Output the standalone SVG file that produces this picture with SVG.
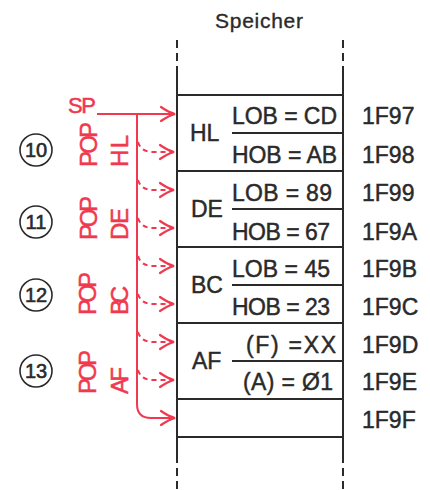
<svg xmlns="http://www.w3.org/2000/svg" width="430" height="490" viewBox="0 0 430 490">
  <style>
    .ink { fill: #2a2a2a; stroke: #2a2a2a; stroke-width: 0.45; font-family: "Liberation Sans", Arial, sans-serif; }
    .cell { font-size: 23px; }
    .addr { font-size: 23px; }
    .title { font-size: 21px; stroke-width: 0.35; }
    .red { fill: #f0384f; stroke: #f0384f; stroke-width: 0.5; font-family: "Liberation Sans", Arial, sans-serif; }
    .pop { font-size: 24px; }
    .frame { stroke: #2a2a2a; stroke-width: 2; fill: none; }
    .frame-dash { stroke: #2a2a2a; stroke-width: 2; fill: none; stroke-dasharray: 8 5; }
    .rule { stroke: #2a2a2a; stroke-width: 2; }
    .wire { stroke: #f0384f; stroke-width: 2; fill: none; }
    .wire-dash { stroke: #f0384f; stroke-width: 2; fill: none; stroke-dasharray: 5 4; }
    .ring { fill: none; stroke: #2a2a2a; stroke-width: 1.6; }
    .num { font-size: 20px; stroke-width: 0.6; }
  </style>
  <defs>
    <marker id="head" markerUnits="userSpaceOnUse" markerWidth="20" markerHeight="20" refX="16" refY="10" orient="auto">
      <path d="M2,3 Q10,8.5 16,10 Q10,11.5 2,17" fill="none" stroke="#f0384f" stroke-width="2.2" stroke-linecap="round"/>
    </marker>
  </defs>

  <rect width="430" height="490" fill="#ffffff"/>

  <!-- memory column -->
  <g id="memory">
    <text class="ink title" x="215" y="28" textLength="88">Speicher</text>
    <line class="frame-dash" x1="177" y1="40" x2="177" y2="66"/>
    <line class="frame-dash" x1="343" y1="40" x2="343" y2="66"/>
    <line class="frame" x1="177" y1="66" x2="177" y2="463"/>
    <line class="frame" x1="343" y1="66" x2="343" y2="463"/>
    <line class="frame-dash" x1="177" y1="468" x2="177" y2="490"/>
    <line class="frame-dash" x1="343" y1="468" x2="343" y2="490"/>
    <!-- full row borders -->
    <line class="rule" x1="177" y1="95" x2="343" y2="95"/>
    <line class="rule" x1="177" y1="171" x2="343" y2="171"/>
    <line class="rule" x1="177" y1="247" x2="343" y2="247"/>
    <line class="rule" x1="177" y1="323" x2="343" y2="323"/>
    <line class="rule" x1="177" y1="399" x2="343" y2="399"/>
    <line class="rule" x1="177" y1="437" x2="343" y2="437"/>
    <!-- byte separators -->
    <line class="rule" x1="232" y1="133" x2="343" y2="133"/>
    <line class="rule" x1="232" y1="209" x2="343" y2="209"/>
    <line class="rule" x1="232" y1="285" x2="343" y2="285"/>
    <line class="rule" x1="232" y1="361" x2="343" y2="361"/>
  </g>

  <g id="reg-hl">
    <text class="ink cell" x="190" y="141">HL</text>
    <text class="ink cell" x="232" y="124" textLength="105">LOB = CD</text>
    <text class="ink cell" x="232" y="163" textLength="105">HOB = AB</text>
  </g>
  <g id="reg-de">
    <text class="ink cell" x="191" y="217">DE</text>
    <text class="ink cell" x="232" y="201" textLength="100">LOB = 89</text>
    <text class="ink cell" x="232" y="240" textLength="98">HOB = 67</text>
  </g>
  <g id="reg-bc">
    <text class="ink cell" x="191" y="293">BC</text>
    <text class="ink cell" x="232" y="277" textLength="98">LOB = 45</text>
    <text class="ink cell" x="232" y="315" textLength="98">HOB = 23</text>
  </g>
  <g id="reg-af">
    <text class="ink cell" x="192" y="369">AF</text>
    <text class="ink cell" x="246" y="353" textLength="90">(F) =XX</text>
    <text class="ink cell" x="243" y="390" textLength="90">(A) = Ø1</text>
  </g>

  <!-- addresses -->
  <g id="addresses">
    <text class="ink addr" x="362" y="124">1F97</text>
    <text class="ink addr" x="362" y="163">1F98</text>
    <text class="ink addr" x="362" y="201">1F99</text>
    <text class="ink addr" x="362" y="240">1F9A</text>
    <text class="ink addr" x="362" y="277">1F9B</text>
    <text class="ink addr" x="362" y="315">1F9C</text>
    <text class="ink addr" x="362" y="353">1F9D</text>
    <text class="ink addr" x="362" y="390">1F9E</text>
    <text class="ink addr" x="362" y="428">1F9F</text>
  </g>

  <!-- step markers and instructions -->
  <g id="step-10">
    <circle class="ring" cx="36" cy="150" r="16"/>
    <text class="ink num" x="36" y="157" text-anchor="middle">10</text>
    <text class="red pop" transform="translate(97,167) rotate(-90)" textLength="45">POP</text>
    <text class="red pop" transform="translate(128,167) rotate(-90)" textLength="32">HL</text>
  </g>
  <g id="step-11">
    <circle class="ring" cx="36" cy="222" r="16"/>
    <text class="ink num" x="36" y="229" text-anchor="middle">11</text>
    <text class="red pop" transform="translate(97,240) rotate(-90)" textLength="44">POP</text>
    <text class="red pop" transform="translate(128,240) rotate(-90)" textLength="32">DE</text>
  </g>
  <g id="step-12">
    <circle class="ring" cx="36" cy="295" r="16"/>
    <text class="ink num" x="36" y="302" text-anchor="middle">12</text>
    <text class="red pop" transform="translate(96,315) rotate(-90)" textLength="43">POP</text>
    <text class="red pop" transform="translate(128,315) rotate(-90)" textLength="29">BC</text>
  </g>
  <g id="step-13">
    <circle class="ring" cx="36" cy="371" r="16"/>
    <text class="ink num" x="36" y="378" text-anchor="middle">13</text>
    <text class="red pop" transform="translate(96,394) rotate(-90)" textLength="44">POP</text>
    <text class="red pop" transform="translate(128,394) rotate(-90)" textLength="27">AF</text>
  </g>

  <g id="sp">
    <text class="red" x="68" y="113" font-size="22" textLength="28">SP</text>
  </g>

  <!-- stack pointer movement -->
  <g id="connectors">
    <path class="wire" d="M97,114 L175,114" marker-end="url(#head)"/>
    <path class="wire" d="M137,114 L137,404 Q137,418 151,418 L175,418" marker-end="url(#head)"/>
    <path class="wire-dash" d="M138,142 Q141,152 153,152 L174,152" marker-end="url(#head)"/>
    <path class="wire-dash" d="M138,180 Q141,190 153,190 L174,190" marker-end="url(#head)"/>
    <path class="wire-dash" d="M138,218 Q141,228 153,228 L174,228" marker-end="url(#head)"/>
    <path class="wire-dash" d="M138,256 Q141,266 153,266 L174,266" marker-end="url(#head)"/>
    <path class="wire-dash" d="M138,294 Q141,304 153,304 L174,304" marker-end="url(#head)"/>
    <path class="wire-dash" d="M138,332 Q141,342 153,342 L174,342" marker-end="url(#head)"/>
    <path class="wire-dash" d="M138,370 Q141,380 153,380 L174,380" marker-end="url(#head)"/>
  </g>
</svg>
